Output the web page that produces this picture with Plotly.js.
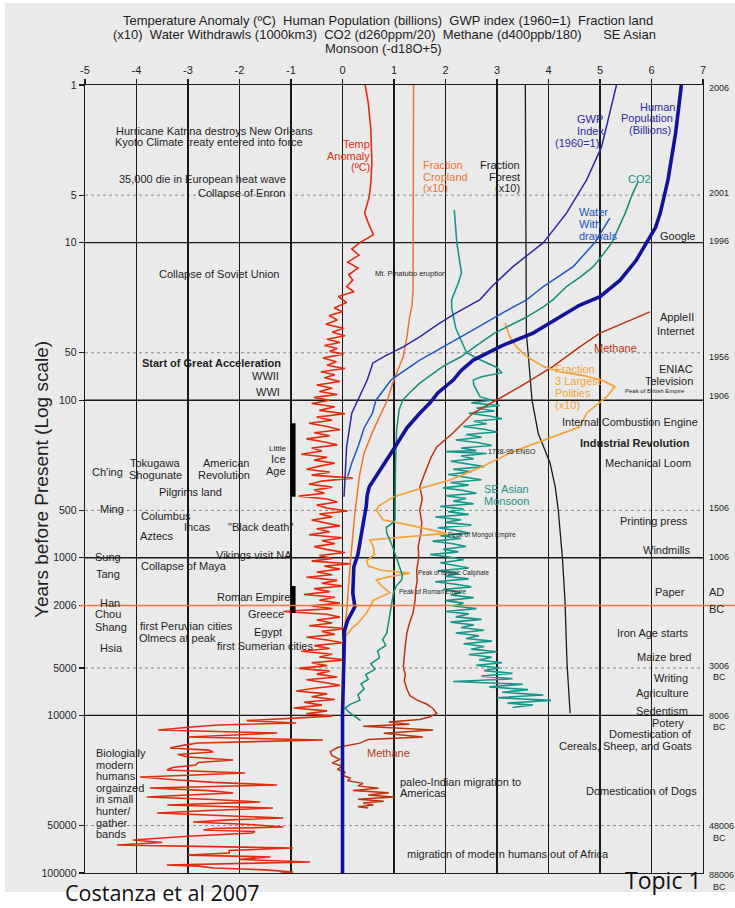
<!DOCTYPE html>
<html>
<head>
<meta charset="utf-8">
<script src="https://cdn.plot.ly/plotly-3.0.1.min.js"></script>
<style>html,body{margin:0;padding:0;background:#fff;}#chart{width:735px;height:908px;}</style>
</head>
<body>
<div id="chart"></div>
<script>
// ---------- DATA (years before present, value on top axis) ----------
const xTicks = [-5,-4,-3,-2,-1,0,1,2,3,4,5,6,7];
const xTickText = ['-5','-4','-3','-2','-1','0','1','2','3','4','5','6','7'];
const yTicks = [1,5,10,50,100,500,1000,2006,5000,10000,50000,100000];
const yTickText = ['1','5','10','50','100','500','1000','2006','5000','10000','50000','100000'];
const decadeLines = [10,100,1000,10000];
const halfDecadeLines = [5,50,500,5000,50000];
const adBcYear = 2006;
const iceAgeBar = [140, 410];
const romanBar = [1510, 2240];
const barX = -0.96;

const tempAnomaly = [
[1,0.44],[1.3,0.50],[1.9,0.55],[3.1,0.57],[4.2,0.55],[5.1,0.52],[6.5,0.43],[7.5,0.50],[8.9,0.60],[10,0.34],
[11,0.18],[12,0.32],[13.3,0.10],[14.5,0.30],[16,0.12],[17.3,0.20],[19,0.08],[20.5,0.22],[22,-0.08],[24,0.08],
[26,-0.16],[27.5,0.0],[29,-0.26],[31,-0.10],[33,-0.32],[35,0.02],[37,-0.20],[39,0.05],[41,-0.30],[43,-0.05],
[45,-0.35],[47,-0.10],[49,-0.25],[51,0.02],[54,-0.38],[57,-0.12],[60,-0.30],[63,0.05],[66,-0.42],[69,-0.15],
[72,-0.35],[76,-0.05],[80,-0.50],[84,-0.20],[88,-0.45],[92,-0.10],[96,-0.55],[100,-0.25],[105,-0.60],[110,-0.15],
[116,-0.45],[122,0.05],[128,-0.50],[134,-0.20],[140,-0.65],[147,-0.30],[154,-0.05],[161,-0.55],[168,-0.25],[176,-0.70],
[184,-0.35],[192,-0.10],[201,-0.60],[210,-0.40],[220,-0.80],[230,-0.30],[240,-0.55],[251,-0.15],[262,-0.45],[274,-0.70],
[286,-0.25],[299,-0.60],[312,0.20],[326,-0.40],[341,-0.65],[356,-0.20],[372,-0.55],[389,-0.35],[406,-0.85],[424,-0.30],
[443,-0.10],[463,-0.50],[484,-0.30],[505,0.10],[527,-0.45],[550,-0.20],[575,-0.60],[600,-0.35],[627,-0.05],[655,-0.50],
[684,-0.25],[714,-0.65],[746,0.00],[779,-0.40],[813,-0.15],[849,-0.55],[887,-0.30],[926,0.05],[967,-0.45],[1010,-0.20],
[1050,-0.60],[1090,0.15],[1130,-0.35],[1180,-0.05],[1230,-0.50],[1280,-0.20],[1330,-0.70],[1390,-0.10],[1450,-0.40],[1510,0.00],
[1570,-0.55],[1640,-0.25],[1710,-0.75],[1780,-0.15],[1860,-0.45],[1940,-0.05],[2020,-0.60],[2100,-0.20],[2190,-1.15],[2280,-0.30],
[2380,-0.05],[2480,-0.50],[2590,-0.20],[2700,-0.65],[2810,0.05],[2930,-0.40],[3060,-0.15],[3190,-0.70],[3320,-0.30],[3460,0.00],
[3610,-0.55],[3760,-0.25],[3920,-0.80],[4090,-0.20],[4260,-0.45],[4440,0.05],[4630,-0.60],[4830,-0.30],[5030,-0.85],[5240,-0.25],
[5470,-0.50],[5700,-0.10],[5940,-0.70],[6190,-0.35],[6450,-0.05],[6720,-0.55],[7000,-0.90],[7300,-0.30],[7610,-0.60],[7930,-0.15],
[8260,-0.75],[8610,-0.40],[8980,-0.95],[9360,-0.30],[9750,-0.70],[10100,-0.20],[10500,-1.20],[10800,-1.86],[11170,-0.90],[11500,-2.40],
[11850,-2.93],[12380,-3.58],[12940,-1.27],[13300,-2.20],[13720,-3.00],[14330,-0.38],[14970,-2.80],[15500,-3.10],[16100,-3.35],[16600,-2.60],
[17070,-2.51],[17700,-3.20],[18360,-3.00],[19180,-2.12],[19900,-2.80],[20640,-2.85],[21400,-3.30],[22200,-3.41],[23180,-1.89],[24000,-3.00],
[24600,-3.93],[25700,-3.20],[26600,-2.50],[27650,-1.27],[28900,-3.74],[30000,-2.60],[31060,-2.12],[32000,-3.00],[32950,-3.80],[34200,-2.50],
[35450,-1.60],[37050,-3.40],[38710,-1.35],[40100,-2.60],[41620,-3.60],[43200,-2.40],[44770,-1.15],[46000,-2.20],[47450,-2.90],[49200,-1.80],
[51050,-1.15],[52200,-2.50],[53330,-2.70],[54500,-1.70],[55720,-1.75],[58500,-3.00],[61760,-4.07],[64000,-3.50],[66400,-4.38],[68000,-2.50],
[69380,-0.96],[72000,-2.20],[74600,-2.20],[77000,-3.00],[79070,-1.40],[82000,-2.00],[85110,-0.63],[88920,-3.41],[90500,-2.80],[92940,-2.50],
[95500,-1.50],[98600,-0.96],[100000,-1.20]
];

const population = [
[1,6.58],[2,6.47],[4,6.32],[6.5,6.17],[8,6.08],[10,5.91],[13,5.7],[17.3,5.39],[22,5.0],[25,4.6],[30,4.2],[37.5,3.7],
[45,3.1],[55.6,2.54],[65,2.3],[74.5,2.15],[90,1.85],[104,1.7],[121,1.5],[150,1.25],[198,1.02],[260,0.78],[320,0.6],
[354,0.52],[400,0.48],[475,0.46],[560,0.42],[665,0.38],[760,0.36],[850,0.34],[950,0.3],[1140,0.22],[1400,0.21],
[1670,0.2],[2040,0.24],[2300,0.16],[2500,0.1],[2900,0.04],[4000,0.03],[6000,0.03],[10000,0.0],[100000,0.0]
];

const gwpIndex = [
[1,5.32],[2.47,5.03],[4,4.74],[6.5,4.35],[10,3.9],[14.2,3.31],[19,2.9],[23,2.67],[28,2.2],[33,1.85],[39.6,1.5],
[46,1.17],[52,0.85],[58,0.59],[74.5,0.48],[100,0.3],[121,0.18],[198,0.08],[320,0.05],[410,0.03]
];

const waterWithdrawals = [
[7,5.19],[10,4.9],[14.2,4.48],[19,3.9],[23,3.58],[28,3.1],[35.9,2.53],[45,2.0],[55.6,1.5],[74,0.95],[100,0.65],
[121,0.58],[150,0.42],[198,0.3],[250,0.18],[305,0.1]
];

const co2 = [
[4.1,5.74],[5,5.62],[6.5,5.49],[8,5.36],[10,5.23],[12,5.05],[14.2,4.87],[16.5,4.62],[19,4.35],[23,4.09],[25.6,3.9],
[30,3.55],[33,3.3],[37.5,2.95],[45,2.6],[53,2.3],[61,1.95],[70,1.7],[78,1.5],[90,1.3],[100,1.17],[115,1.1],[155,1.05],
[250,1.03],[400,1.02],[575,1.02],[610,0.95],[640,0.85],[700,0.86],[770,0.92],[900,1.0],[1000,1.05],[1140,1.12],
[1280,1.16],[1380,1.15],[1500,1.05],[1670,0.99],[2000,0.95],[2230,0.92],[2600,0.88],[3000,0.86],[3300,0.78],[3600,0.84],
[3900,0.68],[4300,0.72],[4700,0.55],[5100,0.63],[5500,0.45],[5900,0.5],[6300,0.36],[6800,0.42],[7400,0.3],[8000,0.34],
[8500,0.15],[9000,0.05],[9500,0.12],[10000,0.22],[10400,0.3],[10800,0.35]
];

const methane = [
[27.5,5.97],[32,5.5],[37.5,5.0],[46,4.6],[61,4.09],[82,3.45],[99,3.0],[121,2.53],[162,2.14],[198,1.83],[230,1.72],
[265,1.64],[300,1.58],[355,1.5],[420,1.55],[500,1.5],[600,1.54],[700,1.52],[850,1.47],[1000,1.48],[1200,1.44],[1400,1.45],
[1600,1.42],[1860,1.41],[2230,1.37],[2600,1.3],[3000,1.25],[3600,1.22],[4200,1.2],[4900,1.18],[5500,1.22],[6000,1.2],
[6800,1.25],[7500,1.31],[8000,1.45],[8500,1.64],[9000,1.75],[9700,1.83],[10200,1.7],[10600,1.5],[11000,0.9],[11400,1.3],
[11700,0.4],[12400,1.76],[13000,0.8],[13700,1.56],[14200,0.5],[15000,0.34],[16000,-0.1],[17000,-0.24],[18000,-0.2],
[19000,-0.05],[20000,-0.2],[21000,0.0],[22000,-0.1],[23000,0.05],[24000,0.0],[25000,0.15],[26000,0.1],[27000,0.4],
[28000,0.3],[29000,0.7],[30000,0.2],[31000,0.9],[32000,0.5],[33000,1.0],[34000,0.3],[35000,0.8],[36000,0.4],[37000,0.6],
[38000,0.3],[38700,0.5]
];

const seAsianMonsoon = [
[6.2,2.17],[10,2.22],[15.6,2.31],[18,2.25],[23,2.12],[26,2.12],[35,2.2],[46,2.35],[50,2.41],[55,2.65],[58,2.8],[62,3.0],
[67,3.09],[71,2.7],[74.5,2.54],[80,2.55],[86,2.6],[95,2.67],
[100,2.9],[104,2.5],[108,3.05],[112,2.6],[117,2.95],[121,2.45],[126,2.85],[131,3.1],[136,2.55],[141,2.8],[147,2.35],
[153,2.75],[159,3.0],[165,2.4],[172,2.7],[179,2.2],[186,2.65],[194,2.9],[201,2.3],[209,2.6],[212,2.0],[218,2.8],
[226,2.3],[235,2.55],[244,2.1],[254,2.45],[264,2.75],[274,2.15],[285,2.5],[296,2.05],[308,2.4],[320,2.7],[333,2.1],
[346,2.45],[360,1.95],[374,2.35],[389,2.6],[404,2.0],[420,2.4],[437,2.15],[454,2.55],[472,1.9],[491,2.35],[510,2.05],
[530,2.45],[551,1.8],[573,2.3],[596,2.0],[620,2.5],[645,1.85],[670,2.2],[697,2.45],[725,1.9],[754,2.3],[784,1.75],
[815,2.15],[848,2.4],[882,1.95],[917,2.25],[954,1.7],[992,2.1],[1030,2.35],[1075,1.9],[1120,2.2],[1160,2.45],[1210,1.85],
[1260,2.25],[1310,2.0],[1360,2.45],[1420,1.8],[1470,2.2],[1530,2.5],[1590,1.95],[1660,2.3],[1720,2.1],[1790,2.55],
[1870,2.0],[1940,2.35],[2020,2.15],[2100,2.6],[2190,2.0],[2270,2.45],[2370,2.2],[2460,2.7],[2560,2.1],[2670,2.55],
[2770,2.3],[2880,2.75],[3000,2.2],[3120,2.65],[3250,2.4],[3380,2.9],[3510,2.35],[3650,2.75],[3800,2.5],[3950,3.0],
[4110,2.45],[4280,2.9],[4450,2.65],[4630,3.1],[4810,2.6],[5000,3.05],[5200,2.75],[5410,3.3],[5630,2.7],[5860,3.3],
[6090,2.15],[6340,3.5],[6590,2.85],[6860,3.6],[7130,3.1],[7420,3.9],[7720,3.0],[8030,4.05],[8350,3.2],[8600,3.7],[8900,3.3]
];

const croplandX10 = [
[1,1.38],[10,1.38],[20,1.37],[25,1.35],[30,1.3],[40,1.25],[53,1.18],[74,1.0],[100,0.87],[121,0.75],[160,0.58],
[216,0.42],[300,0.33],[520,0.24],[1090,0.15],[2230,0.08],[3000,0.03],[3500,0.0]
];

const forestX10 = [
[1,3.55],[20,3.56],[37.5,3.57],[53,3.61],[100,3.68],[162,3.8],[250,4.03],[355,4.13],[500,4.19],[1000,4.27],
[1860,4.32],[4700,4.36],[9700,4.42]
];

const largestPolitiesX10 = [
[32.5,3.16],[40,3.25],[46,3.38],[53,3.58],[61,3.9],[66,4.22],[70,4.7],[75,5.05],[82,5.29],[90,5.2],[95,5.13],
[100,5.05],[120,4.75],[148,4.6],[170,4.1],[212,3.31],[265,2.7],[320,2.1],[360,1.55],[410,1.0],[470,0.7],[500,0.66],
[575,0.79],[620,1.3],[700,2.02],[740,1.2],[770,0.53],[850,0.6],[950,0.62],[1040,0.47],[1130,0.5],[1200,0.75],
[1250,1.31],[1320,0.9],[1380,0.66],[1500,0.75],[1670,0.92],[1860,0.6],[2230,0.47],[2600,0.3],[2800,0.18],[3100,0.08]
];

// ---------- LAYOUT HELPERS ----------
const F = 'Liberation Sans, Arial, Helvetica, sans-serif';
const L = 85, T = 85, W = 618, H = 788;
function px2x(px){ return (px - L) / W; }
function py2y(py){ return (T + H - py) / H; }
function txt(text, px, py, o){
  o = o || {};
  return {xref:'paper', yref:'paper', x:px2x(px), y:py2y(py), text:text, showarrow:false,
    xanchor:o.anchor || 'center', yanchor:'middle', align:o.anchor==='right'?'right':(o.anchor==='left'?'left':'center'),
    textangle:o.angle || 0,
    font:{family:o.family || F, size:o.size || 11, color:o.color || '#1e1e1e'}};
}
function lines(arr, px, py0, dy, o){ return arr.map((t,i)=>txt(t, px, py0 + i*dy, o)); }

const C = {
  temp:'#e22c0e', crop:'#f0732a', polity:'#f4a235', forest:'#1a1a1a', pop:'#13139a',
  gwp:'#2b2b9e', water:'#2158c4', co2:'#138f7c', methane:'#b9340f', monsoon:'#16978b', adbc:'#f07a3c'
};

function tr(series, color, width){
  return {type:'scatter', mode:'lines', x:series.map(p=>p[1]), y:series.map(p=>p[0]),
    line:{color:color, width:width}, hoverinfo:'skip', showlegend:false};
}

const traces = [
  tr(seAsianMonsoon, C.monsoon, 1.6),
  tr(tempAnomaly, C.temp, 1.6),
  tr(forestX10, C.forest, 1.3),
  tr(methane, C.methane, 1.5),
  tr(croplandX10, C.crop, 1.5),
  tr(largestPolitiesX10, C.polity, 1.7),
  tr(co2, C.co2, 1.5),
  tr(waterWithdrawals, C.water, 1.5),
  tr(gwpIndex, C.gwp, 1.5),
  tr(population, C.pop, 3.6),
  {type:'scatter', mode:'lines', x:[barX,barX], y:iceAgeBar, line:{color:'#000', width:5}, hoverinfo:'skip', showlegend:false},
  {type:'scatter', mode:'lines', x:[barX,barX], y:romanBar, line:{color:'#000', width:5}, hoverinfo:'skip', showlegend:false}
];

const shapes = [];
// white border strips around the grey slide background
shapes.push({type:'rect', xref:'paper', yref:'paper', x0:px2x(0), x1:px2x(5), y0:py2y(908), y1:py2y(0), fillcolor:'#fff', line:{width:0}, layer:'below'});
shapes.push({type:'rect', xref:'paper', yref:'paper', x0:px2x(0), x1:px2x(735), y0:py2y(908), y1:py2y(892), fillcolor:'#fff', line:{width:0}, layer:'below'});
shapes.push({type:'rect', xref:'paper', yref:'paper', x0:px2x(0), x1:px2x(735), y0:py2y(3), y1:py2y(0), fillcolor:'#fff', line:{width:0}, layer:'below'});
decadeLines.forEach(v=>shapes.push({type:'line', xref:'paper', yref:'y', x0:0, x1:1, y0:v, y1:v, line:{color:'#1a1a1a', width:1.4}, layer:'below'}));
halfDecadeLines.forEach(v=>shapes.push({type:'line', xref:'paper', yref:'y', x0:0, x1:1, y0:v, y1:v, line:{color:'#8a8a8a', width:1, dash:'dot'}, layer:'below'}));
shapes.push({type:'line', xref:'paper', yref:'y', x0:px2x(80), x1:px2x(735), y0:adBcYear, y1:adBcYear, line:{color:C.adbc, width:1.5}, layer:'above'});

const ann = [];
// header
ann.push(txt('Temperature Anomaly (ºC)  Human Population (billions)  GWP index (1960=1)  Fraction land', 388, 21, {size:13}));
ann.push(txt('(x10)  Water Withdrawls (1000km3)  CO2 (d260ppm/20)  Methane (d400ppb/180)      SE Asian', 384, 35, {size:13}));
ann.push(txt('Monsoon (-d18O+5)', 383, 49, {size:13}));
ann.push(txt('Years before Present (Log scale)', 41, 480, {size:19, angle:-90, color:'#222'}));
// right-side date labels
[['2006',88],['2001',193],['1996',241],['1956',357],['1906',396],['1506',508],['1006',557],['AD',592],['BC',609],
 ['3006',666],['BC',677],['8006',716],['BC',727],['48006',826],['BC',838],['88006',875],['BC',887]].forEach(d=>{
  const big = (d[0]==='AD' || (d[0]==='BC' && d[1]===609)) ? 11 : 9;
  let x = 707;
  if (d[0]==='BC' && d[1]!==609) x = 711;
  ann.push(txt(d[0], x, d[1], {anchor:'left', size:big}));
});
// left column events
ann.push(txt('Hurricane Katrina destroys New Orleans', 214, 131));
ann.push(txt('Kyoto Climate treaty entered into force', 209, 142));
ann.push(txt('35,000 die in European heat wave', 202, 179));
ann.push(txt('Collapse of Enron', 287, 193, {anchor:'right'}));
ann.push(txt('Collapse of Soviet Union', 219, 274));
ann.push(txt('<b>Start of Great Acceleration</b>', 211, 363));
ann.push(txt('WWII', 281, 376, {anchor:'right'}));
ann.push(txt('WWI', 282, 392, {anchor:'right'}));
ann.push(txt('Little', 288, 448, {anchor:'right', size:8}));
ann.push(txt('Ice', 288, 459, {anchor:'right'}));
ann.push(txt('Age', 288, 471, {anchor:'right'}));
ann.push(txt("Ch'ing", 107, 472));
ann.push(txt('Tokugawa', 155, 463));
ann.push(txt('Shogunate', 155, 475));
ann.push(txt('American', 226, 463));
ann.push(txt('Revolution', 224, 475));
ann.push(txt('Pilgrims land', 190, 492));
ann.push(txt('Ming', 112, 509));
ann.push(txt('Columbus', 166, 516));
ann.push(txt('Incas', 197, 527));
ann.push(txt('"Black death"', 260, 527));
ann.push(txt('Aztecs', 157, 536));
ann.push(txt('Sung', 108, 557));
ann.push(txt('Vikings visit NA', 254, 555));
ann.push(txt('Collapse of Maya', 184, 566));
ann.push(txt('Tang', 108, 574));
ann.push(txt('Roman Empire', 253, 597));
ann.push(txt('Han', 110, 603));
ann.push(txt('Chou', 108, 614));
ann.push(txt('Greece', 266, 614));
ann.push(txt('Shang', 111, 627));
ann.push(txt('first Peruvian cities', 186, 626));
ann.push(txt('Egypt', 268, 632));
ann.push(txt('Olmecs at peak', 177, 638));
ann.push(txt('first Sumerian cities', 265, 646));
ann.push(txt('Hsia', 111, 648));
lines(['Biologially','modern','humans','orgainzed','in small','hunter/','gather','bands'], 94, 753, 11.6, {anchor:'left'}).forEach(a=>ann.push(a));
// series labels
lines(['Temp','Anomaly','(ºC)'], 372, 144, 11.5, {anchor:'right', color:C.temp}).forEach(a=>ann.push(a));
lines(['Fraction','Cropland','(x10)'], 421, 165, 11.5, {anchor:'left', color:C.crop}).forEach(a=>ann.push(a));
lines(['Fraction','Forest','(x10)'], 522, 165, 11.5, {anchor:'right'}).forEach(a=>ann.push(a));
ann.push(txt('GWP', 575, 119, {anchor:'left', color:C.gwp}));
ann.push(txt('Index', 575, 131, {anchor:'left', color:C.gwp}));
ann.push(txt('(1960=1)', 601, 143, {anchor:'right', color:C.gwp}));
ann.push(txt('Human', 677, 107, {anchor:'right', color:C.gwp}));
ann.push(txt('Population', 675, 118, {anchor:'right', color:C.gwp}));
ann.push(txt('(Billions)', 673, 130, {anchor:'right', color:C.gwp}));
ann.push(txt('CO2', 639, 179, {color:C.co2}));
lines(['Water','With','drawals'], 577, 212, 12, {anchor:'left', color:C.water}).forEach(a=>ann.push(a));
ann.push(txt('Mt. Pinatubo eruption', 411, 273, {size:7.5}));
ann.push(txt('Google', 697, 236, {anchor:'right'}));
ann.push(txt('AppleII', 696, 317, {anchor:'right'}));
ann.push(txt('Internet', 696, 331, {anchor:'right'}));
ann.push(txt('Methane', 615, 348, {color:C.methane}));
ann.push(txt('ENIAC', 695, 369, {anchor:'right'}));
ann.push(txt('Television', 695, 381, {anchor:'right'}));
ann.push(txt('Peak of British Empire', 655, 391, {size:6}));
lines(['Fraction','3 Largest','Polities','(x10)'], 553, 369, 12, {anchor:'left', color:C.polity}).forEach(a=>ann.push(a));
ann.push(txt('Internal Combustion Engine', 630, 422));
ann.push(txt('<b>Industrial Revolution</b>', 635, 443));
ann.push(txt('Mechanical Loom', 693, 463, {anchor:'right'}));
ann.push(txt('1788-95 ENSO', 486, 451, {anchor:'left', size:7}));
ann.push(txt('SE Asian', 482, 489, {anchor:'left', color:C.monsoon}));
ann.push(txt('Monsoon', 482, 501, {anchor:'left', color:C.monsoon}));
ann.push(txt('Printing press', 690, 521, {anchor:'right'}));
ann.push(txt('Peak of Mongol Empire', 446, 535, {anchor:'left', size:6.5}));
ann.push(txt('Windmills', 693, 550, {anchor:'right'}));
ann.push(txt('Peak of Islamic Caliphate', 416, 573, {anchor:'left', size:6.3}));
ann.push(txt('Peak of Roman Empire', 397, 592, {anchor:'left', size:6.5}));
ann.push(txt('Paper', 670, 592));
ann.push(txt('Iron Age starts', 690, 633, {anchor:'right'}));
ann.push(txt('Maize bred', 693, 657, {anchor:'right'}));
ann.push(txt('Writing', 690, 678, {anchor:'right'}));
ann.push(txt('Agriculture', 691, 693, {anchor:'right'}));
ann.push(txt('Sedentism', 690, 711, {anchor:'right'}));
ann.push(txt('Potery', 686, 723, {anchor:'right'}));
ann.push(txt('Domestication of', 694, 734, {anchor:'right'}));
ann.push(txt('Cereals, Sheep, and Goats', 694, 746, {anchor:'right'}));
ann.push(txt('Methane', 388, 753, {color:C.methane}));
ann.push(txt('paleo-Indian migration to', 398, 782, {anchor:'left'}));
ann.push(txt('Americas', 398, 793, {anchor:'left'}));
ann.push(txt('Domestication of Dogs', 699, 791, {anchor:'right'}));
ann.push(txt('migration of modern humans out of Africa', 508, 854));
ann.push(txt('Costanza et al 2007', 162, 892, {size:21.5, family:'Open Sans, Noto Sans, sans-serif', color:'#111'}));
ann.push(txt('Topic 1', 704, 880, {anchor:'right', size:23, family:'Open Sans, Noto Sans, sans-serif', color:'#111'}));

const layout = {
  width:735, height:908,
  margin:{l:L, r:735-L-W, t:T, b:908-T-H, pad:0},
  paper_bgcolor:'#eaeaea', plot_bgcolor:'#eaeaea',
  showlegend:false,
  font:{family:F, color:'#1e1e1e'},
  xaxis:{range:[-5,7], side:'top', tickmode:'array', tickvals:xTicks, ticktext:xTickText,
    tickfont:{size:11, family:F, color:'#1e1e1e'}, ticks:'outside', ticklen:5, tickcolor:'#1a1a1a', tickwidth:1.3,
    showgrid:true, gridcolor:'#1a1a1a', gridwidth:1.4, zeroline:false,
    showline:true, linecolor:'#1a1a1a', linewidth:1.4, mirror:true, fixedrange:true},
  yaxis:{type:'log', range:[Math.log10(100000), Math.log10(1)], tickmode:'array', tickvals:yTicks, ticktext:yTickText,
    tickfont:{size:10.5, family:F, color:'#1e1e1e'}, ticks:'outside', ticklen:5, tickcolor:'#1a1a1a', tickwidth:1.2,
    showgrid:false, zeroline:false, showline:true, linecolor:'#1a1a1a', linewidth:1.4, mirror:true, fixedrange:true},
  shapes:shapes,
  annotations:ann
};

Plotly.newPlot('chart', traces, layout, {staticPlot:true, displayModeBar:false});
</script>
</body>
</html>
